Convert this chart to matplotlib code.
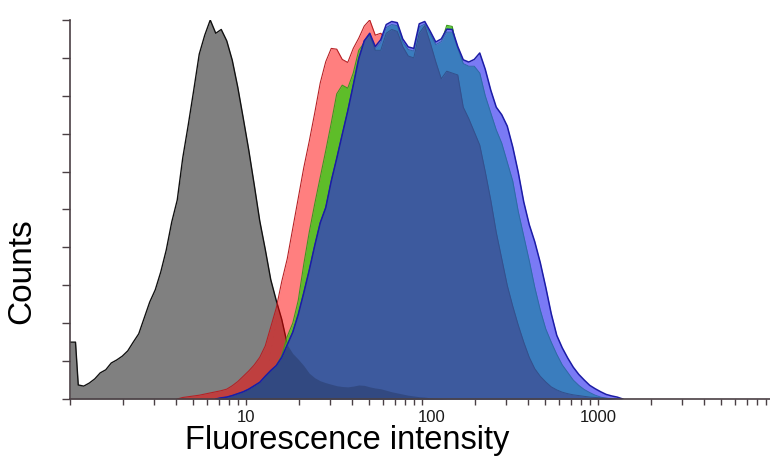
import numpy as np
import matplotlib
matplotlib.use("Agg")
import matplotlib.pyplot as plt
from matplotlib import font_manager
from matplotlib.ticker import LogLocator, NullFormatter
from matplotlib.transforms import ScaledTranslation

# Histogram channels: 32 per decade over 1 .. 10^4
CH_PER_DECADE = 32
N_CH = 128

# Counts per channel, scaled so the tallest peak is 100
GRAY_START = 0
gray_counts = [15.0, 3.7, 3.4, 4.2, 5.3, 6.9, 7.7, 9.5, 10.3, 11.3, 12.7, 15.0, 17.2,
               21.4, 25.6, 28.8, 33.5, 39.3, 46.7, 52.5, 63.6, 72.3, 81.5, 91.0, 96.0,
               100.0, 96.5, 97.5, 94.5, 89.4, 82.3, 74.1, 65.7, 56.5, 47.0, 39.5, 31.5,
               26.0, 21.0, 14.5, 12.0, 10.5, 8.8, 6.8, 5.6, 4.8, 4.3, 3.9, 3.5, 3.3,
               3.2, 3.4, 3.7, 3.6, 3.2, 2.9, 2.7, 2.3, 1.9, 1.6, 1.3, 1.0, 0.8, 0.6,
               0.5, 0.3, 0.2, 0.1]

RED_START = 20
red_counts = [0.4, 0.6, 0.8, 1.0, 1.3, 1.6, 1.9, 2.2, 2.6, 3.5, 4.6, 6.0, 7.4, 9.0,
              11.0, 14.0, 19.0, 24.0, 31.0, 37.0, 45.0, 53.0, 61.0, 68.0, 75.5, 83.4,
              89.0, 92.5, 92.3, 89.6, 88.8, 92.5, 95.2, 98.4, 100.0, 96.0, 96.5, 95.0,
              94.0, 92.0, 90.0, 88.0, 86.0, 84.0, 80.0, 75.0, 70.0, 65.0, 60.0, 54.0,
              48.0, 42.0, 36.0, 30.0, 24.0, 19.0, 14.0, 10.0, 7.0, 4.5, 2.8, 1.6, 0.8,
              0.3]

GREEN_START = 30
green_counts = [0.5, 1.0, 1.7, 2.6, 3.8, 5.4, 7.2, 8.8, 11.5, 16.5, 20.0, 26.0, 35.5,
                44.0, 51.5, 58.5, 65.5, 72.8, 80.5, 82.8, 82.0, 86.0, 92.0, 94.0, 95.0,
                92.0, 93.5, 96.0, 97.0, 96.5, 93.0, 91.0, 91.0, 95.0, 97.0, 95.5, 93.5,
                94.0, 98.6, 98.3, 91.0, 87.0, 85.0, 84.0, 82.0, 76.0, 68.0, 60.0, 52.0,
                44.0, 36.0, 28.5, 22.0, 16.0, 11.5, 8.0, 5.5, 3.5, 2.2, 1.2, 0.6, 0.2]

VIOLET_START = 27
violet_counts = [0.3, 0.5, 0.9, 1.4, 1.9, 2.6, 3.5, 4.4, 6.0, 7.5, 8.8, 11.0, 14.3,
                 17.6, 22.3, 28.0, 34.0, 40.5, 46.5, 50.5, 57.5, 63.5, 69.8, 76.0, 82.8,
                 89.8, 94.5, 96.5, 93.0, 94.8, 98.8, 99.6, 99.3, 95.0, 92.9, 92.5, 99.0,
                 99.6, 97.0, 94.2, 95.0, 97.6, 97.5, 93.0, 89.5, 88.9, 89.6, 91.3, 87.0,
                 81.5, 77.0, 75.0, 72.0, 66.5, 59.8, 52.0, 46.0, 41.5, 36.0, 29.5, 22.5,
                 16.8, 13.5, 10.8, 8.4, 6.5, 5.0, 3.6, 2.7, 1.9, 1.2, 0.8, 0.5]

STEEL_START = 27
steel_counts = [0.3, 0.5, 0.9, 1.4, 1.9, 2.6, 3.5, 4.4, 6.0, 7.5, 8.8, 11.0, 14.3,
                17.6, 22.3, 28.0, 34.0, 40.5, 46.5, 50.5, 57.5, 63.5, 69.8, 76.0, 82.8,
                89.8, 94.5, 96.5, 92.5, 94.0, 98.0, 98.8, 98.5, 94.2, 92.2, 91.8, 98.2,
                98.9, 96.3, 93.5, 94.3, 96.8, 96.8, 92.5, 88.5, 87.8, 87.8, 86.0, 80.0,
                75.5, 71.0, 67.5, 62.5, 57.5, 49.5, 43.0, 36.5, 29.5, 23.5, 18.5, 15.0,
                11.8, 9.0, 7.0, 5.0, 3.6, 2.5, 1.7, 1.0, 0.5, 0.2]

NAVY_START = 27
navy_counts = [0.3, 0.5, 0.9, 1.4, 1.9, 2.6, 3.5, 4.4, 6.0, 7.5, 8.8, 11.0, 14.3,
               17.6, 22.3, 28.0, 34.0, 40.5, 46.5, 50.5, 57.5, 63.5, 69.8, 76.0, 82.8,
               89.8, 94.5, 96.0, 92.0, 92.0, 96.5, 97.5, 97.0, 93.0, 90.5, 90.0, 96.5,
               98.5, 94.0, 89.0, 84.5, 86.5, 86.0, 85.5, 77.0, 74.0, 70.5, 67.0, 60.0,
               52.5, 44.0, 37.0, 30.0, 24.5, 19.5, 15.0, 11.0, 8.0, 6.0, 4.5, 3.2, 2.4,
               1.8, 1.4, 1.1, 0.9, 0.7, 0.5, 0.4, 0.3, 0.2, 0.1]

x_ticks = [1, 10, 100, 1000]
x_tick_labels = ["", "10", "100", "1000"]
y_ticks = list(range(0, 101, 10))

AXIS_COLOR = "#4a4044"


def channel_x(start, n):
    idx = np.arange(start, start + n)
    return 10 ** ((idx + 0.5) / CH_PER_DECADE)


def trace(start, counts):
    # close the outline on the baseline one channel past each end
    x = channel_x(start - 1, len(counts) + 2)
    y = np.r_[0.0, counts, 0.0]
    return x, y


def on_grid(start, counts):
    full = np.zeros(N_CH)
    full[start:start + len(counts)] = counts
    return full


names = {f.name for f in font_manager.fontManager.ttflist}
label_font = "Liberation Sans" if "Liberation Sans" in names else "DejaVu Sans"
plt.rcParams["font.family"] = label_font

fig = plt.figure(figsize=(7.7, 4.69), dpi=100)
ax = fig.add_axes([70 / 770, 70 / 469, 700 / 770, 379 / 469])

# gray: the first channel is a flat bin sitting on the axis
gx, gy = trace(GRAY_START, gray_counts)
gx[0] = 1.0
gy[0] = gray_counts[0]
gx[1] = 10 ** (1 / CH_PER_DECADE)
ax.fill_between(gx, 0, gy, color="#808080", lw=0, zorder=1)
ax.plot(gx, gy, color="#111111", lw=1.0, zorder=1.5)

rx, ry = trace(RED_START, red_counts)
ax.fill_between(rx, 0, ry, color="red", alpha=0.5, lw=0, zorder=2)
ax.plot(rx, ry, color="#b82024", lw=0.8, zorder=2.5)

grx, gry = trace(GREEN_START, green_counts)
ax.fill_between(grx, 0, gry, color=(0.26, 0.79, 0.10), alpha=0.85, lw=0, zorder=3)
ax.plot(grx, gry, color="#3c9a1e", lw=0.8, zorder=3.5)

vx, vy = trace(VIOLET_START, violet_counts)
ax.fill_between(vx, 0, vy, color="#7a7af5", lw=0, zorder=4)

sx, sy = trace(STEEL_START, steel_counts)
ax.fill_between(sx, 0, sy, color="#3a7dbe", lw=0, zorder=5)
ax.plot(sx, sy, color="#2f6aa6", lw=0.7, zorder=5.5)

nx, ny = trace(NAVY_START, navy_counts)
ax.fill_between(nx, 0, ny, color="#3d5a9e", lw=0, zorder=6)
ax.plot(nx, ny, color="#34508c", lw=0.7, zorder=6.5)

# control tail showing through the blue overlay
shade = np.minimum(on_grid(GRAY_START, gray_counts), on_grid(NAVY_START, navy_counts))
ax.fill_between(channel_x(0, N_CH), 0, shade, color="black", alpha=0.18, lw=0, zorder=7)

# outer envelope line
ax.plot(vx, vy, color="#1c1ca6", lw=1.1, zorder=8)

ax.set_xscale("log")
ax.set_xlim(1, 10 ** (700 / 176))
ax.set_ylim(0, 100)

ax.set_xticks(x_ticks, labels=x_tick_labels)
ax.xaxis.set_minor_locator(LogLocator(base=10, subs=range(2, 10), numticks=20))
ax.xaxis.set_minor_formatter(NullFormatter())
ax.set_yticks(y_ticks)
ax.set_yticklabels([])

for side in ("top", "right"):
    ax.spines[side].set_visible(False)
for side in ("left", "bottom"):
    ax.spines[side].set_color(AXIS_COLOR)
    ax.spines[side].set_linewidth(1.2)
    ax.spines[side].set_zorder(9)

ax.tick_params(axis="y", direction="out", length=6, width=1, color=AXIS_COLOR)
ax.tick_params(axis="x", which="both", direction="out", length=4, width=1,
               color=AXIS_COLOR, pad=4, labelsize=12, labelcolor="#1a1a1a")

# the "100" label sits a little right of its tick
hundred = ax.xaxis.get_major_ticks()[2].label1
hundred.set_transform(hundred.get_transform() + ScaledTranslation(10 / 100, 0, fig.dpi_scale_trans))

fig.text(347 / 770, 1 - 449 / 469, "Fluorescence intensity", ha="center", va="baseline",
         fontsize=23.5, color="black")
fig.text(22 / 770, 1 - 271 / 469, "Counts", ha="center", va="center", rotation=90,
         fontsize=24, color="black")

fig.savefig("out.png", dpi=100, facecolor="white")
